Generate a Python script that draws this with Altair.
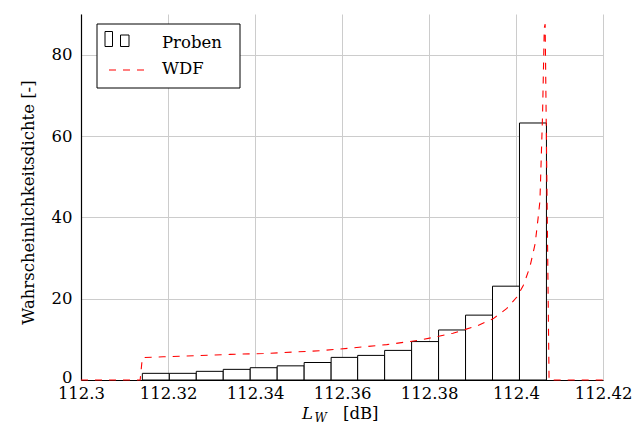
import altair as alt
import pandas as pd

# Histogram (Proben): bin left/right edges and density heights
bin_left = [112.3141, 112.3203, 112.3265, 112.3327, 112.3389, 112.3451, 112.3513,
            112.3575, 112.3636, 112.3698, 112.3760, 112.3822, 112.3884, 112.3946, 112.4008]
bin_right = [112.3203, 112.3265, 112.3327, 112.3389, 112.3451, 112.3513, 112.3575,
             112.3636, 112.3698, 112.3760, 112.3822, 112.3884, 112.3946, 112.4008, 112.4070]
bin_density = [1.64, 1.64, 2.13, 2.62, 3.02, 3.48, 4.30, 5.56, 6.05, 7.28, 9.45,
               12.30, 15.95, 23.07, 63.20]

# WDF curve
wdf_x = [112.3000, 112.3136, 112.3141, 112.3189, 112.3343, 112.3419, 112.3549,
         112.3625, 112.3703, 112.3779, 112.3855, 112.3910, 112.3948, 112.3979,
         112.4002, 112.4017, 112.4032, 112.4044, 112.4051, 112.4055, 112.4061,
         112.4065, 112.4067, 112.4076, 112.4200]
wdf_y = [0.0, 0.0, 5.5, 5.7, 6.3, 6.5, 7.2, 7.9, 8.7, 9.8, 11.5, 13.3, 15.1, 17.6,
         20.4, 23.3, 27.8, 33.5, 40.0, 44.0, 65.0, 86.6, 87.5, 0.0, 0.0]

x_ticks = [112.3, 112.32, 112.34, 112.36, 112.38, 112.4, 112.42]
y_ticks = [0, 20, 40, 60, 80]
legend_labels = ["Proben", "WDF"]

FONT = "DejaVu Serif"
FS = 16.5
DASH = [7, 7]

hist = pd.DataFrame({"a": bin_left, "b": bin_right, "h": bin_density})
wdf = pd.DataFrame({"x": wdf_x, "y": wdf_y})
one = pd.DataFrame({"k": [0]})

xscale = alt.Scale(domain=[112.3, 112.42], nice=False, zero=False)
yscale = alt.Scale(domain=[0, 90], nice=False)

xaxis = alt.Axis(values=x_ticks, format="~g", title=None, ticks=False,
                 grid=True, gridColor="#cccccc", gridWidth=1,
                 domainColor="black", domainWidth=1.2,
                 labelFont=FONT, labelFontSize=FS, labelColor="black",
                 labelPadding=5, labelFlush=False, labelOverlap=False)
yaxis = alt.Axis(values=y_ticks, title="Wahrscheinlichkeitsdichte [-]", ticks=False,
                 grid=True, gridColor="#cccccc", gridWidth=1,
                 domainColor="black", domainWidth=1.2,
                 labelFont=FONT, labelFontSize=FS, labelColor="black",
                 labelPadding=9, labelFlush=False, labelOverlap=False,
                 labelOffset={"condition": {"test": "datum.value == 0", "value": -3}, "value": 0},
                 titleFont=FONT, titleFontSize=FS, titleFontWeight="normal",
                 titleColor="black", titleAngle=270, titleBaseline="alphabetic",
                 titleX=-48, titleY=188, titleAlign="center")

bars = alt.Chart(hist).mark_rect(fill="white", stroke="black", strokeWidth=1).encode(
    x=alt.X("a:Q", scale=xscale, axis=xaxis),
    x2="b:Q",
    y=alt.Y("h:Q", scale=yscale, axis=yaxis),
    y2=alt.datum(0),
)

line = alt.Chart(wdf).mark_line(color="red", strokeWidth=1.1, strokeDash=DASH).encode(
    x=alt.X("x:Q", scale=xscale),
    y=alt.Y("y:Q", scale=yscale),
)

# Legend (drawn manually)
box = alt.Chart(one).mark_rect(fill="white", stroke="black", strokeWidth=1).encode(
    x=alt.value(16), x2=alt.value(159), y=alt.value(10), y2=alt.value(74))
sym1 = alt.Chart(one).mark_rect(fill="white", stroke="black", strokeWidth=1).encode(
    x=alt.value(24), x2=alt.value(31.5), y=alt.value(17.5), y2=alt.value(32.5))
sym2 = alt.Chart(one).mark_rect(fill="white", stroke="black", strokeWidth=1).encode(
    x=alt.value(39.5), x2=alt.value(48), y=alt.value(21), y2=alt.value(32.5))
dash = alt.Chart(one).mark_rule(color="red", strokeWidth=1.1, strokeDash=DASH).encode(
    x=alt.value(28), x2=alt.value(69), y=alt.value(56))
t1 = alt.Chart(one).mark_text(text=legend_labels[0], font=FONT, fontSize=FS, align="left",
                              baseline="alphabetic", color="black").encode(
    x=alt.value(81), y=alt.value(33.5))
t2 = alt.Chart(one).mark_text(text=legend_labels[1], font=FONT, fontSize=FS, align="left",
                              baseline="alphabetic", color="black").encode(
    x=alt.value(81), y=alt.value(60))

# X axis title: L_W [dB]
tl = alt.Chart(one).mark_text(text="L", font=FONT, fontSize=FS, fontStyle="italic",
                              align="left", baseline="alphabetic", color="black").encode(
    x=alt.value(221), y=alt.value(405))
tw = alt.Chart(one).mark_text(text="W", font=FONT, fontSize=12, fontStyle="italic",
                              align="left", baseline="alphabetic", color="black").encode(
    x=alt.value(233.5), y=alt.value(408))
tdb = alt.Chart(one).mark_text(text="[dB]", font=FONT, fontSize=FS,
                               align="left", baseline="alphabetic", color="black").encode(
    x=alt.value(262), y=alt.value(405))

chart = alt.layer(bars, line, box, sym1, sym2, dash, t1, t2, tl, tw, tdb).properties(
    width=522, height=366,
    autosize=alt.AutoSizeParams(type="none"),
    padding={"left": 73, "top": 6, "right": 31, "bottom": 44},
    background="white",
).configure_view(strokeWidth=0)

chart.save("out.html", embed_options={"renderer": "svg", "actions": False})
